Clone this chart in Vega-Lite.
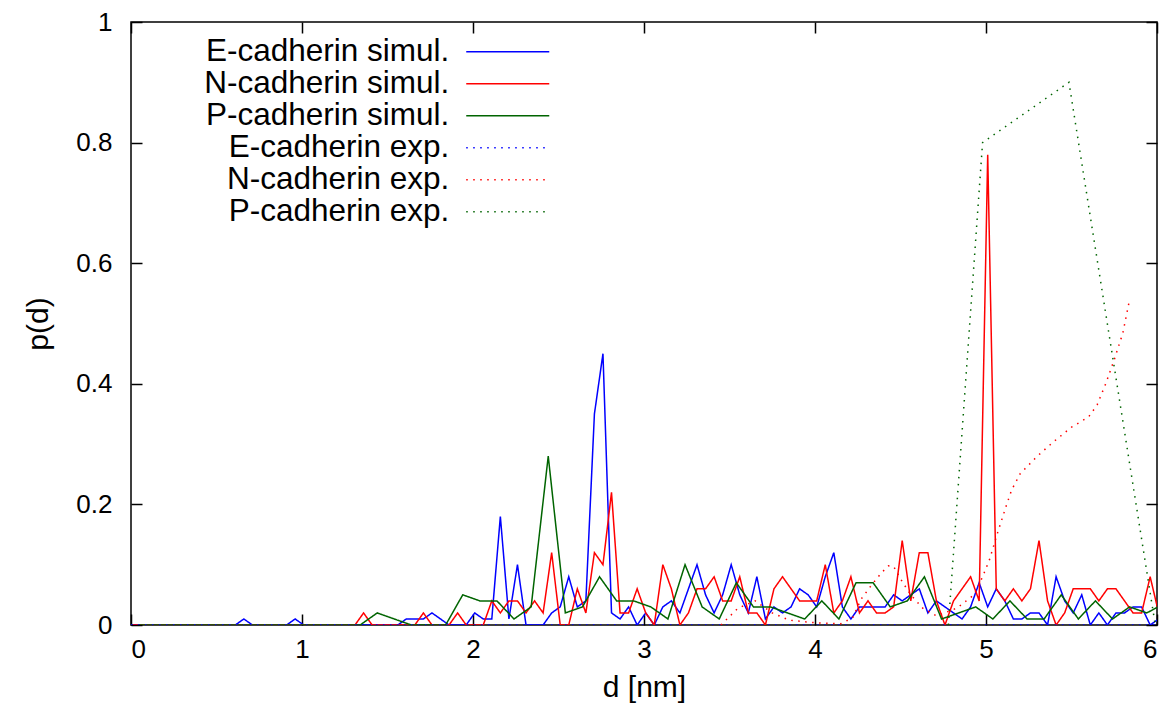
{
  "$schema": "https://vega.github.io/schema/vega-lite/v6.json",
  "width": 1026,
  "height": 603,
  "autosize": "none",
  "padding": {"left": 131, "top": 22, "right": 18, "bottom": 102},
  "background": "white",
  "config": {
    "font": "Liberation Sans",
    "view": {"stroke": "black", "strokeWidth": 1.5},
    "axis": {
      "grid": false,
      "domain": false,
      "tickColor": "black",
      "tickWidth": 1.5,
      "tickSize": -11,
      "labelColor": "black",
      "labelFont": "Liberation Sans",
      "labelFontSize": 26,
      "titleFont": "Liberation Sans",
      "titleFontSize": 30,
      "titleFontWeight": "normal",
      "titleColor": "black"
    },
    "legend": {
      "orient": "none",
      "legendX": 361,
      "legendY": 14,
      "direction": "vertical",
      "padding": 0,
      "labelFont": "Liberation Sans",
      "labelFontSize": 31.5,
      "labelColor": "black",
      "labelAlign": "right",
      "labelOffset": -74.2,
      "labelLimit": 0,
      "symbolType": "M-3,0H3",
      "symbolSize": 766,
      "symbolStrokeWidth": 1.5,
      "rowPadding": -1.3
    }
  },
  "resolve": {"axis": {"x": "independent", "y": "independent"}},
  "layer": [
    {
      "data": {
        "values": [
          {"d":0.01,"Es":0,"Ns":0},{"d":0.06,"Es":0,"Ns":0},{"d":0.11,"Es":0,"Ns":0},{"d":0.16,"Es":0,"Ns":0},{"d":0.21,"Es":0,"Ns":0},{"d":0.26,"Es":0,"Ns":0},{"d":0.31,"Es":0,"Ns":0},{"d":0.36,"Es":0,"Ns":0},{"d":0.41,"Es":0,"Ns":0},{"d":0.46,"Es":0,"Ns":0},
          {"d":0.51,"Es":0,"Ns":0},{"d":0.56,"Es":0,"Ns":0},{"d":0.61,"Es":0,"Ns":0},{"d":0.66,"Es":0.01,"Ns":0},{"d":0.71,"Es":0,"Ns":0},{"d":0.76,"Es":0,"Ns":0},{"d":0.81,"Es":0,"Ns":0},{"d":0.86,"Es":0,"Ns":0},{"d":0.91,"Es":0,"Ns":0},{"d":0.96,"Es":0.01,"Ns":0},
          {"d":1.01,"Es":0,"Ns":0},{"d":1.06,"Es":0,"Ns":0},{"d":1.11,"Es":0,"Ns":0},{"d":1.16,"Es":0,"Ns":0},{"d":1.21,"Es":0,"Ns":0},{"d":1.26,"Es":0,"Ns":0},{"d":1.31,"Es":0,"Ns":0},{"d":1.36,"Es":0,"Ns":0.02},{"d":1.41,"Es":0,"Ns":0},{"d":1.46,"Es":0,"Ns":0},
          {"d":1.51,"Es":0,"Ns":0},{"d":1.56,"Es":0,"Ns":0},{"d":1.61,"Es":0.01,"Ns":0},{"d":1.66,"Es":0.01,"Ns":0},{"d":1.71,"Es":0.01,"Ns":0.02},{"d":1.76,"Es":0.02,"Ns":0},{"d":1.81,"Es":0.01,"Ns":0},{"d":1.86,"Es":0,"Ns":0},{"d":1.91,"Es":0,"Ns":0.02},{"d":1.96,"Es":0,"Ns":0},
          {"d":2.01,"Es":0.02,"Ns":0},{"d":2.06,"Es":0.01,"Ns":0},{"d":2.11,"Es":0.01,"Ns":0.04},{"d":2.16,"Es":0.18,"Ns":0.02},{"d":2.21,"Es":0.01,"Ns":0.04},{"d":2.26,"Es":0.10,"Ns":0.04},{"d":2.31,"Es":0,"Ns":0.02},{"d":2.36,"Es":0,"Ns":0.04},{"d":2.41,"Es":0,"Ns":0.02},{"d":2.46,"Es":0.02,"Ns":0.12},
          {"d":2.51,"Es":0.03,"Ns":0},{"d":2.56,"Es":0.08,"Ns":0},{"d":2.61,"Es":0.03,"Ns":0.06},{"d":2.66,"Es":0.04,"Ns":0.02},{"d":2.71,"Es":0.35,"Ns":0.12},{"d":2.76,"Es":0.45,"Ns":0.10},{"d":2.81,"Es":0.02,"Ns":0.22},{"d":2.86,"Es":0.01,"Ns":0.02},{"d":2.91,"Es":0.03,"Ns":0.02},{"d":2.96,"Es":0,"Ns":0.06},
          {"d":3.01,"Es":0.02,"Ns":0.02},{"d":3.06,"Es":0,"Ns":0},{"d":3.11,"Es":0.03,"Ns":0.10},{"d":3.16,"Es":0.04,"Ns":0.06},{"d":3.21,"Es":0.02,"Ns":0},{"d":3.26,"Es":0.06,"Ns":0.02},{"d":3.31,"Es":0.10,"Ns":0.06},{"d":3.36,"Es":0.05,"Ns":0.06},{"d":3.41,"Es":0.02,"Ns":0.08},{"d":3.46,"Es":0.05,"Ns":0.04},
          {"d":3.51,"Es":0.10,"Ns":0.04},{"d":3.56,"Es":0.05,"Ns":0.08},{"d":3.61,"Es":0.02,"Ns":0.02},{"d":3.66,"Es":0.08,"Ns":0.02},{"d":3.71,"Es":0.01,"Ns":0},{"d":3.76,"Es":0.03,"Ns":0.06},{"d":3.81,"Es":0.02,"Ns":0.08},{"d":3.86,"Es":0.03,"Ns":0.06},{"d":3.91,"Es":0.06,"Ns":0.04},{"d":3.96,"Es":0.05,"Ns":0.04},
          {"d":4.01,"Es":0.03,"Ns":0.04},{"d":4.06,"Es":0.08,"Ns":0.10},{"d":4.11,"Es":0.12,"Ns":0.02},{"d":4.16,"Es":0.03,"Ns":0.04},{"d":4.21,"Es":0.01,"Ns":0.08},{"d":4.26,"Es":0.03,"Ns":0.02},{"d":4.31,"Es":0.03,"Ns":0.04},{"d":4.36,"Es":0.03,"Ns":0.02},{"d":4.41,"Es":0.03,"Ns":0.02},{"d":4.46,"Es":0.05,"Ns":0.03},
          {"d":4.51,"Es":0.04,"Ns":0.14},{"d":4.56,"Es":0.05,"Ns":0.04},{"d":4.61,"Es":0.06,"Ns":0.12},{"d":4.66,"Es":0.02,"Ns":0.12},{"d":4.71,"Es":0.04,"Ns":0.04},{"d":4.76,"Es":0.03,"Ns":0},{"d":4.81,"Es":0.02,"Ns":0.04},{"d":4.86,"Es":0.01,"Ns":0.06},{"d":4.91,"Es":0.03,"Ns":0.08},{"d":4.96,"Es":0.07,"Ns":0.04},
          {"d":5.01,"Es":0.03,"Ns":0.78},{"d":5.06,"Es":0.06,"Ns":0.06},{"d":5.11,"Es":0.04,"Ns":0.04},{"d":5.16,"Es":0.01,"Ns":0.06},{"d":5.21,"Es":0.01,"Ns":0.04},{"d":5.26,"Es":0.02,"Ns":0.06},{"d":5.31,"Es":0.02,"Ns":0.14},{"d":5.36,"Es":0,"Ns":0.04},{"d":5.41,"Es":0.08,"Ns":0},{"d":5.46,"Es":0.04,"Ns":0.02},
          {"d":5.51,"Es":0.02,"Ns":0.06},{"d":5.56,"Es":0.05,"Ns":0.06},{"d":5.61,"Es":0,"Ns":0.06},{"d":5.66,"Es":0.02,"Ns":0.04},{"d":5.71,"Es":0,"Ns":0.06},{"d":5.76,"Es":0.02,"Ns":0.06},{"d":5.81,"Es":0.02,"Ns":0.04},{"d":5.86,"Es":0.03,"Ns":0.02},{"d":5.91,"Es":0.03,"Ns":0.02},{"d":5.96,"Es":0,"Ns":0.08},
          {"d":6.01,"Es":0.01,"Ns":0.02}
        ]
      },
      "transform": [{"fold": ["Es", "Ns"], "as": ["s", "p"]}],
      "mark": {"type": "line", "clip": true, "strokeWidth": 1.5},
      "encoding": {
        "x": {"field": "d", "type": "quantitative", "scale": {"domain": [0, 6], "nice": false, "zero": false},
              "axis": {"values": [0,1,2,3,4,5,6], "format": "d", "labelPadding": 22, "title": "d [nm]", "titlePadding": 10}},
        "y": {"field": "p", "type": "quantitative", "scale": {"domain": [0, 1], "nice": false},
              "axis": {"values": [0,0.2,0.4,0.6,0.8,1], "format": ".1~f", "labelPadding": 30, "title": "p(d)", "titlePadding": 22}},
        "color": {"field": "s", "type": "nominal",
                  "scale": {"domain": ["Es","Ns","Ps","Ee","Ne","Pe"], "range": ["#0000ff","#ff0000","#006400","#0000ff","#ff0000","#006400"]},
                  "legend": {"title": null, "labelExpr": "{'Es':'E-cadherin simul.','Ns':'N-cadherin simul.','Ps':'P-cadherin simul.','Ee':'E-cadherin exp.','Ne':'N-cadherin exp.','Pe':'P-cadherin exp.'}[datum.label]"}},
        "strokeDash": {"field": "s", "type": "nominal",
                  "scale": {"domain": ["Es","Ns","Ps","Ee","Ne","Pe"], "range": [[1,0],[1,0],[1,0],[1.5,5.5],[1.5,5.5],[1.5,5.5]]},
                  "legend": {"title": null, "labelExpr": "{'Es':'E-cadherin simul.','Ns':'N-cadherin simul.','Ps':'P-cadherin simul.','Ee':'E-cadherin exp.','Ne':'N-cadherin exp.','Pe':'P-cadherin exp.'}[datum.label]"}}
      }
    },
    {
      "data": {
        "values": [
          {"d":0.04,"Ps":0},{"d":0.14,"Ps":0},{"d":0.24,"Ps":0},{"d":0.34,"Ps":0},{"d":0.44,"Ps":0},{"d":0.54,"Ps":0},{"d":0.64,"Ps":0},{"d":0.74,"Ps":0},{"d":0.84,"Ps":0},{"d":0.94,"Ps":0},
          {"d":1.04,"Ps":0},{"d":1.14,"Ps":0},{"d":1.24,"Ps":0},{"d":1.34,"Ps":0},{"d":1.44,"Ps":0.02},{"d":1.54,"Ps":0.01},{"d":1.64,"Ps":0},{"d":1.74,"Ps":0},{"d":1.84,"Ps":0},{"d":1.94,"Ps":0.05},
          {"d":2.04,"Ps":0.04},{"d":2.14,"Ps":0.04},{"d":2.24,"Ps":0.01},{"d":2.34,"Ps":0.03},{"d":2.44,"Ps":0.28},{"d":2.54,"Ps":0.02},{"d":2.64,"Ps":0.03},{"d":2.74,"Ps":0.08},{"d":2.84,"Ps":0.04},{"d":2.94,"Ps":0.04},
          {"d":3.04,"Ps":0.03},{"d":3.14,"Ps":0.01},{"d":3.24,"Ps":0.10},{"d":3.34,"Ps":0.03},{"d":3.44,"Ps":0.01},{"d":3.54,"Ps":0.07},{"d":3.64,"Ps":0.03},{"d":3.74,"Ps":0.03},{"d":3.84,"Ps":0.02},{"d":3.94,"Ps":0.01},
          {"d":4.04,"Ps":0.04},{"d":4.14,"Ps":0.01},{"d":4.24,"Ps":0.07},{"d":4.34,"Ps":0.07},{"d":4.44,"Ps":0.03},{"d":4.54,"Ps":0.04},{"d":4.64,"Ps":0.08},{"d":4.74,"Ps":0.01},{"d":4.84,"Ps":0.02},{"d":4.94,"Ps":0.03},
          {"d":5.04,"Ps":0.01},{"d":5.14,"Ps":0.04},{"d":5.24,"Ps":0.01},{"d":5.34,"Ps":0.01},{"d":5.44,"Ps":0.05},{"d":5.54,"Ps":0.01},{"d":5.64,"Ps":0.04},{"d":5.74,"Ps":0.01},{"d":5.84,"Ps":0.03},{"d":5.94,"Ps":0.02},
          {"d":6.04,"Ps":0.035}
        ]
      },
      "transform": [{"fold": ["Ps"], "as": ["s", "p"]}],
      "mark": {"type": "line", "clip": true, "strokeWidth": 1.5},
      "encoding": {
        "x": {"field": "d", "type": "quantitative", "axis": {"orient": "top", "values": [0,1,2,3,4,5,6], "labels": false, "title": null}},
        "y": {"field": "p", "type": "quantitative", "axis": {"orient": "right", "values": [0,0.2,0.4,0.6,0.8,1], "labels": false, "title": null}},
        "color": {"field": "s", "type": "nominal"},
        "strokeDash": {"field": "s", "type": "nominal"}
      }
    },
    {
      "data": {
        "values": [
          {"s":"Ee","d":0,"p":0},{"s":"Ee","d":6,"p":0},
          {"s":"Ne","d":3.45,"p":0},{"s":"Ne","d":3.55,"p":0.028},{"s":"Ne","d":3.65,"p":0.04},{"s":"Ne","d":3.75,"p":0.02},{"s":"Ne","d":3.85,"p":0.008},{"s":"Ne","d":3.95,"p":0.005},{"s":"Ne","d":4.05,"p":0.003},{"s":"Ne","d":4.15,"p":0.002},
          {"s":"Ne","d":4.22,"p":0.012},{"s":"Ne","d":4.27,"p":0.043},{"s":"Ne","d":4.33,"p":0.066},{"s":"Ne","d":4.39,"p":0.087},{"s":"Ne","d":4.43,"p":0.098},{"s":"Ne","d":4.46,"p":0.097},{"s":"Ne","d":4.51,"p":0.072},{"s":"Ne","d":4.56,"p":0.05},{"s":"Ne","d":4.63,"p":0.028},{"s":"Ne","d":4.71,"p":0.015},
          {"s":"Ne","d":4.83,"p":0.028},{"s":"Ne","d":4.93,"p":0.05},{"s":"Ne","d":4.98,"p":0.08},{"s":"Ne","d":5.02,"p":0.108},{"s":"Ne","d":5.07,"p":0.155},{"s":"Ne","d":5.12,"p":0.199},{"s":"Ne","d":5.15,"p":0.224},{"s":"Ne","d":5.2,"p":0.251},{"s":"Ne","d":5.3,"p":0.28},{"s":"Ne","d":5.4,"p":0.305},
          {"s":"Ne","d":5.5,"p":0.328},{"s":"Ne","d":5.6,"p":0.345},{"s":"Ne","d":5.65,"p":0.365},{"s":"Ne","d":5.7,"p":0.4},{"s":"Ne","d":5.75,"p":0.44},{"s":"Ne","d":5.8,"p":0.484},{"s":"Ne","d":5.84,"p":0.54},
          {"s":"Pe","d":4.78,"p":0},{"s":"Pe","d":4.98,"p":0.8},{"s":"Pe","d":5.485,"p":0.9},{"s":"Pe","d":5.99,"p":0}
        ]
      },
      "mark": {"type": "line", "clip": true, "strokeWidth": 1.5},
      "encoding": {
        "x": {"field": "d", "type": "quantitative", "axis": null},
        "y": {"field": "p", "type": "quantitative", "axis": null},
        "color": {"field": "s", "type": "nominal"},
        "strokeDash": {"field": "s", "type": "nominal"}
      }
    }
  ]
}
